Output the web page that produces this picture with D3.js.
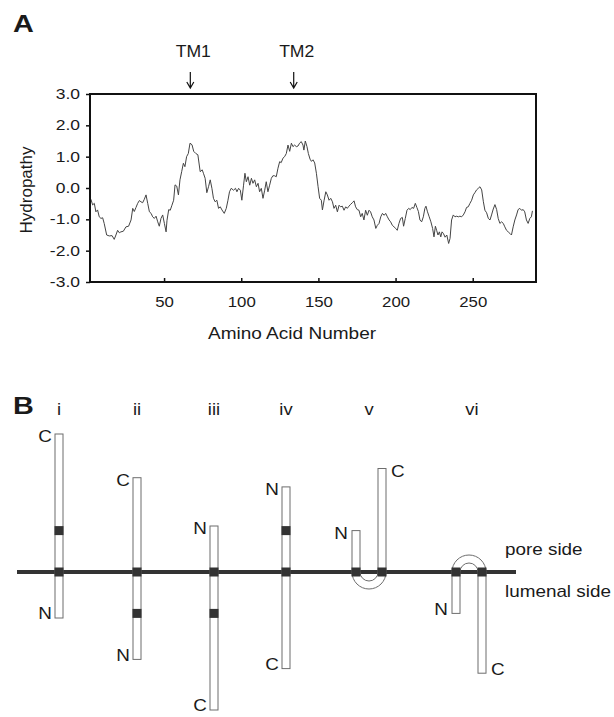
<!DOCTYPE html>
<html>
<head>
<meta charset="utf-8">
<script src="https://cdn.jsdelivr.net/npm/d3@7"></script>
<style>
  body { margin: 0; background: #fff; }
  svg { display: block; }
  text { font-family: "Liberation Sans", Arial, sans-serif; fill: #1a1a1a; }
</style>
</head>
<body>
<div id="visualization"></div>
<script>
// hydropathy profile (residue, score)
const residue = [2.6,3.7,4.8,5.8,6.9,8,9.1,10.2,11.2,12.8,14.5,16.3,17.7,18.8,19.9,21,22,23.6,25.3,27,28.6,29.7,30.7,31.8,32.9,34,35,36.1,37.2,38.3,39.4,40.5,41.6,42.6,43.7,44.8,45.9,46.9,48,49.1,50.2,51.3,51.9,53,54,55.1,56.2,57.1,58.2,59.3,60.3,61.4,62.5,63.5,64.6,65.7,66.8,68.1,69.2,70.6,71.9,73.4,74.7,75.5,76.6,77.7,78.8,79.9,81,82,83.1,84.2,85.3,86.4,87.5,89,90.3,91.4,92.4,93.5,95,96.3,97.2,98.3,99.4,100.4,101.5,102.4,103.3,104.4,105.5,106.6,107.6,108.7,109.8,110.9,111.9,113,114.1,115.2,116.2,117.3,118.4,119.5,120.5,121.6,122.7,123.8,124.9,125.9,127,128.1,129.2,130.3,131.4,132.5,133.5,134.6,135.7,136.8,137.8,138.9,140,140.6,141.5,142.6,143.5,144.6,145.5,146.5,147.6,148.7,149.8,150.8,151.9,152.6,153.7,154.8,155.8,156.9,158,159.1,160.1,161.2,162.3,163.4,164.4,165.5,166.6,167.7,168.7,169.8,170.9,172,173.1,174.1,175.2,176.3,177.4,178.4,179.5,180.6,181.7,182.8,183.8,184.9,186,187.2,188.2,189.3,190.4,191.5,192.6,193.6,194.7,195.8,196.8,197.9,199,200.1,201.1,202.2,203.3,204.4,205.2,206.3,207.4,208.5,209.5,210.6,211.7,212.8,213.8,214.8,215.8,216.9,218,219,219.7,220.7,221.8,222.9,224,224.9,225.8,226.6,227.5,228.4,229.3,230.1,231,232.1,233.2,234.4,235.3,236.3,237.4,238.5,239.6,240.7,241.7,242.8,243.9,245,246,247.1,248.2,249.3,250.4,251.4,252.5,253.6,254.7,255.8,256.9,257.9,259,260.1,261.2,262.2,263.3,264.4,265.5,266.5,267.6,268.7,269.8,270.8,271.9,273,274.1,275.1,276.2,277.3,278.4,279.4,280.5,281.6,282.7,283.7,284.8,285.9,287,288,288.7]
const hydropathy = [-0.36,-0.54,-0.49,-0.76,-0.70,-0.92,-0.97,-0.95,-1.13,-1.50,-1.53,-1.52,-1.64,-1.50,-1.35,-1.43,-1.40,-1.38,-1.24,-1.22,-1.02,-0.65,-0.75,-0.62,-0.49,-0.40,-0.44,-0.47,-0.36,-0.22,-0.49,-0.76,-0.81,-0.92,-0.97,-0.90,-1.08,-1.22,-0.97,-0.86,-1.13,-1.40,-1.03,-0.69,-0.71,-0.55,-0.39,0.10,0.06,-0.22,0.26,0.52,0.79,0.68,1.00,1.10,1.43,1.38,1.17,1.10,1.06,0.52,0.58,0.47,0.31,-0.15,0.04,0.26,-0.01,-0.33,-0.44,-0.39,-0.65,-0.60,-0.70,-0.81,-0.65,-0.39,-0.12,-0.01,-0.07,-0.01,-0.12,-0.01,-0.07,-0.39,0.09,0.47,0.20,0.36,0.09,0.31,0.15,0.26,0.04,0.15,-0.12,-0.01,-0.33,-0.07,0.20,-0.12,0.09,0.31,0.39,0.39,0.36,0.63,0.84,0.81,0.95,1.00,1.10,1.37,1.17,1.43,1.32,1.37,1.32,1.34,1.43,1.48,1.37,1.21,1.50,1.32,1.10,0.92,0.85,0.90,0.80,0.47,0.04,-0.33,-0.39,-0.70,-0.39,-0.12,-0.22,-0.39,-0.33,-0.44,-0.65,-0.55,-0.76,-0.55,-0.60,-0.58,-0.71,-0.60,-0.65,-0.58,-0.52,-0.47,-0.41,-0.60,-0.69,-0.71,-0.92,-0.81,-1.02,-0.71,-0.87,-0.71,-0.76,-0.92,-1.02,-1.29,-1.19,-1.13,-0.92,-0.81,-0.87,-0.81,-0.92,-1.02,-1.08,-1.19,-1.24,-1.29,-1.35,-1.13,-0.97,-0.94,-1.22,-0.97,-0.71,-0.65,-0.69,-0.62,-0.65,-0.49,-0.62,-0.75,-1.02,-1.08,-0.92,-0.65,-0.58,-0.76,-0.92,-1.08,-1.29,-1.56,-1.22,-1.35,-1.50,-1.40,-1.56,-1.40,-1.45,-1.57,-1.50,-1.77,-1.61,-1.02,-0.86,-0.92,-0.90,-0.92,-0.90,-0.92,-0.86,-0.76,-0.62,-0.60,-0.49,-0.39,-0.22,-0.15,-0.06,-0.01,0.04,-0.06,-0.44,-0.71,-0.79,-0.97,-1.02,-0.86,-0.67,-0.53,-0.69,-0.97,-1.13,-1.08,-1.13,-1.24,-1.35,-1.40,-1.45,-1.50,-1.24,-1.02,-0.86,-0.69,-0.65,-0.71,-0.69,-0.76,-1.02,-1.13,-0.97,-0.92,-0.73]

const yTicks = [-3, -2, -1, 0, 1, 2, 3]
const xTicks = [50, 100, 150, 200, 250]
const tmNames = ['TM1', 'TM2']
const tmResidue = [67, 134]

// topology models (units: segment length, 0 = membrane, + = pore side)
const modelNames = ['i', 'ii', 'iii', 'iv', 'v', 'vi']
const straightModels = [
  { id: 'i',   top: 3,    bottom: -1,   topEnd: 'C', bottomEnd: 'N', mark: 0.9 },
  { id: 'ii',  top: 2.05, bottom: -1.9, topEnd: 'C', bottomEnd: 'N', mark: -0.9 },
  { id: 'iii', top: 1,    bottom: -3,   topEnd: 'N', bottomEnd: 'C', mark: -0.9 },
  { id: 'iv',  top: 1.85, bottom: -2.1, topEnd: 'N', bottomEnd: 'C', mark: 0.9 }
]
const hairpinModels = [
  { id: 'v',  nLeg: 0.9,  cLeg: 2.25 },
  { id: 'vi', nLeg: -0.9, cLeg: -2.2 }
]

const w = 614
const h = 717

const svg = d3.select('#visualization')
  .append('svg')
  .attr('width', w)
  .attr('height', h)

// text helper, figure lettering is a bit wide so stretch horizontally
function label(g, x, y, str, size, anchor, sx, weight) {
  return g.append('text')
    .attr('transform', `translate(${x},${y}) scale(${sx},1)`)
    .attr('text-anchor', anchor)
    .attr('dominant-baseline', 'central')
    .style('font-size', size + 'px')
    .style('font-weight', weight || 'normal')
    .text(str)
}

// ---------------- PANEL A ----------------
const xScale = d3.scaleLinear().domain([2, 291]).range([90, 536])
const yScale = d3.scaleLinear().domain([-3, 3]).range([282, 94])

label(svg, 13, 24, 'A', 24, 'start', 1.2, 'bold')

const line = d3.line()
  .x(d => xScale(d[0]))
  .y(d => yScale(d[1]))

svg.append('path')
  .datum(d3.zip(residue, hydropathy))
  .attr('fill', 'none')
  .attr('stroke', '#444')
  .attr('stroke-width', 1)
  .attr('stroke-linejoin', 'round')
  .attr('d', line)

const yaxis = d3.axisLeft(yScale)
  .tickValues(yTicks)
  .tickSize(4)
  .tickPadding(6)
  .tickFormat(d => d.toFixed(1))

const xaxis = d3.axisBottom(xScale)
  .tickValues(xTicks)
  .tickSizeInner(-4)
  .tickSizeOuter(0)
  .tickPadding(15)

const gy = svg.append('g')
  .attr('transform', `translate(90,0)`)
  .call(yaxis)
gy.select('.domain').remove()

const gx = svg.append('g')
  .attr('transform', `translate(0,282)`)
  .call(xaxis)
gx.select('.domain').remove()

;[gx, gy].forEach(g => {
  g.selectAll('line').attr('stroke', '#111').attr('stroke-width', 1.5)
  g.selectAll('text')
    .style('font-size', '14px')
    .attr('font-family', null)
    .attr('fill', '#1a1a1a')
})
gy.selectAll('text')
  .attr('transform', 'translate(-10,0) scale(1.25,1)')
  .attr('x', 0)
gx.selectAll('text')
  .attr('transform', 'scale(1.2,1)')

// frame
svg.append('rect')
  .attr('x', xScale.range()[0])
  .attr('y', yScale.range()[1])
  .attr('width', xScale.range()[1] - xScale.range()[0])
  .attr('height', yScale.range()[0] - yScale.range()[1])
  .attr('fill', 'none')
  .attr('stroke', '#111')
  .attr('stroke-width', 2)

// axis titles
svg.append('text')
  .attr('transform', `translate(26,190) rotate(-90)`)
  .attr('text-anchor', 'middle')
  .attr('dominant-baseline', 'central')
  .style('font-size', '17px')
  .text('Hydropathy')

label(svg, 292, 333, 'Amino Acid Number', 17, 'middle', 1.12)

// TM markers
tmNames.forEach((name, i) => {
  const tx = xScale(tmResidue[i])
  label(svg, tx + 3, 52, name, 16, 'middle', 1.1)
  svg.append('path')
    .attr('d', `M${tx},72 L${tx},88 M${tx - 3.5},82 L${tx},88 L${tx + 3.5},82`)
    .attr('fill', 'none')
    .attr('stroke', '#111')
    .attr('stroke-width', 1.2)
})

// ---------------- PANEL B ----------------
const bY = d3.scaleLinear().domain([-3, 3]).range([710, 434])
const bX = d3.scaleOrdinal()
  .domain(modelNames)
  .range([59, 137, 214, 286, 369, 469])

const y0 = bY(0)
const barW = 8
const R = 17
const r = 9
const darkC = '#333'
const barStroke = '#6d6d6d'

label(svg, 13, 406, 'B', 24, 'start', 1.2, 'bold')

modelNames.forEach(m => {
  label(svg, bX(m) + (m === 'vi' ? 3 : 0), 409, m, 16, 'middle', 1.15)
})

// membrane
svg.append('line')
  .attr('x1', 17).attr('x2', 516)
  .attr('y1', y0).attr('y2', y0)
  .attr('stroke', darkC)
  .attr('stroke-width', 4)

function bar(x, ya, yb) {
  svg.append('rect')
    .attr('x', x - barW / 2)
    .attr('y', Math.min(ya, yb))
    .attr('width', barW)
    .attr('height', Math.abs(yb - ya))
    .attr('fill', '#fff')
    .attr('stroke', barStroke)
    .attr('stroke-width', 1)
}

function mark(x, y) {
  svg.append('rect')
    .attr('x', x - barW / 2 - 0.5)
    .attr('y', y - 4.5)
    .attr('width', barW + 1)
    .attr('height', 9)
    .attr('fill', darkC)
}

// single spanning segments
straightModels.forEach(d => {
  const cx = bX(d.id)
  bar(cx, bY(d.top), bY(d.bottom))
  mark(cx, y0)
  mark(cx, bY(d.mark))
  label(svg, cx - barW / 2 - 3, bY(d.top) + 3, d.topEnd, 16, 'end', 1.18)
  label(svg, cx - barW / 2 - 3, bY(d.bottom) - 4, d.bottomEnd, 16, 'end', 1.18)
})

// hairpins
hairpinModels.forEach(d => {
  const cx = bX(d.id)
  const above = d.cLeg > 0
  const xn = cx - (R + r) / 2
  const xc = cx + (R + r) / 2
  // loop on the opposite side of the legs
  const s1 = above ? 0 : 1
  const s2 = above ? 1 : 0
  svg.append('path')
    .attr('d', `M${cx - R},${y0} A${R},${R} 0 0 ${s1} ${cx + R},${y0} L${cx + r},${y0} A${r},${r} 0 0 ${s2} ${cx - r},${y0} Z`)
    .attr('fill', '#fff')
    .attr('stroke', barStroke)
    .attr('stroke-width', 1)
  bar(xn, y0, bY(d.nLeg))
  bar(xc, y0, bY(d.cLeg))
  mark(xn, y0)
  mark(xc, y0)
  const nY = above ? bY(d.nLeg) + 3 : bY(d.nLeg) - 4
  const cY = above ? bY(d.cLeg) + 3 : bY(d.cLeg) - 4
  label(svg, xn - barW / 2 - 4, nY, 'N', 16, 'end', 1.18)
  label(svg, xc + barW / 2 + 5, cY, 'C', 16, 'start', 1.18)
})

label(svg, 505, 550, 'pore side', 16, 'start', 1.18)
label(svg, 505, 592, 'lumenal side', 16, 'start', 1.18)
</script>
</body>
</html>
